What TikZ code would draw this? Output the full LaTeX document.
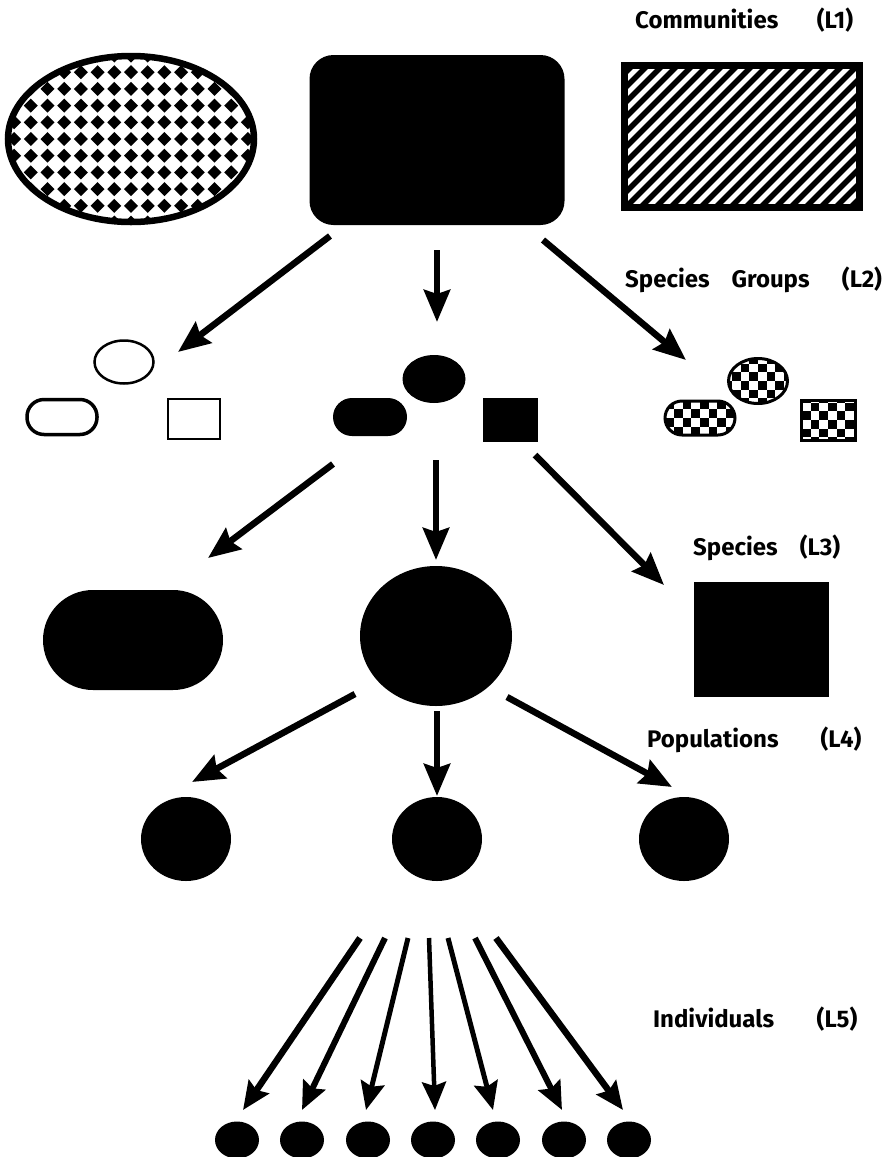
\documentclass[tikz,border=0pt]{standalone}
\usepackage{fontspec}
\setmainfont{Fira Sans}
\usetikzlibrary{shapes.geometric,arrows.meta}

\tikzset{
  shp/.style={inner sep=0pt, outer sep=0pt},
  blk/.style={shp, fill=black},
  oval/.style={shp, ellipse},
  pill/.style={shp, rectangle, rounded corners=#1},
  arr/.style={line width=6.5pt, -{Stealth[length=32pt,width=26pt,inset=4pt]}},
  thinarr/.style={line width=#1, -{Stealth[length=28pt,width=24pt,inset=4pt]}},
  lvlfont/.style={inner sep=0pt, font=\bfseries\fontsize{24}{28}\selectfont},
  lvl/.style={lvlfont, anchor=base west},
  lvltag/.style={lvlfont, anchor=base},
  % 45-degree diamond lattice
  diamonds/.style={path picture={
    \begin{scope}[sharp corners, shift={(path picture bounding box.center)}]
      \foreach \i in {-8,...,8}{\foreach \j in {-6,...,6}{
        \fill (\i*16.7-7,\j*16.7) -- ++(7,7) -- ++(7,-7) -- ++(-7,-7) -- cycle;}}
    \end{scope}}},
  % diagonal stripes rising to the right
  stripes/.style={path picture={
    \begin{scope}[sharp corners, shift={(path picture bounding box.center)}]
      \foreach \k in {-30,...,30}{
        \draw[line width=5.4pt] (\k*15-200,200) -- (\k*15+200,-200);}
    \end{scope}}},
  % small square checkerboard
  checks/.style={path picture={
    \begin{scope}[sharp corners, shift={(path picture bounding box.center)}]
      \foreach \i in {-6,...,6}{\foreach \j in {-5,...,5}{
        \ifodd\numexpr\i+\j+20\relax\else
          \fill (\i*8.6,\j*8.6) rectangle ++(8.6,8.6);
        \fi}}
    \end{scope}}},
}

\begin{document}
\begin{tikzpicture}[x=1pt,y=-1pt]
\useasboundingbox (0,0) rectangle (895,1157);

% ---- level labels
\node[lvl] (t1) at (635,28)  {Communities};
\node[lvltag] (t1l) at (835,28) {(L1)};
\node[lvl] (t2) at (625,287) {Species\hspace{22pt}Groups};
\node[lvltag] (t2l) at (862,287) {(L2)};
\node[lvl] (t3) at (693,555) {Species};
\node[lvltag] (t3l) at (820,555) {(L3)};
\node[lvl] (t4) at (647,747) {Populations};
\node[lvltag] (t4l) at (841,747) {(L4)};
\node[lvl] (t5) at (653,1027) {Individuals};
\node[lvltag] (t5l) at (837,1027) {(L5)};

% ---- L1: communities
\node[oval, draw, line width=6.5pt, diamonds, minimum width=246pt, minimum height=166pt] (c1) at (131,139) {};
\node[blk, pill=24pt, minimum width=255pt, minimum height=170pt] (c2) at (437,140) {};
\node[shp, draw, line width=7pt, stripes, minimum width=235pt, minimum height=142pt] (c3) at (742,136) {};

% ---- L2: species groups
\node[oval, draw, line width=2.5pt, minimum width=59pt, minimum height=43pt] (g1) at (124,362) {};
\node[shp, draw, line width=3.5pt, rounded corners=17pt, minimum width=70pt, minimum height=35pt] (g2) at (62,417) {};
\node[shp, draw, line width=2.5pt, minimum width=52pt, minimum height=40pt] (g3) at (194,419) {};

\node[oval, fill=black, minimum width=63pt, minimum height=48pt] (g4) at (434,379) {};
\node[blk, pill=19pt, minimum width=74pt, minimum height=38pt] (g5) at (370,417) {};
\node[blk, minimum width=55pt, minimum height=44pt] (g6) at (510,420) {};

\node[oval, draw, line width=3pt, checks, minimum width=59pt, minimum height=45pt] (g7) at (758,381) {};
\node[shp, draw, line width=3pt, rounded corners=17pt, checks, minimum width=70pt, minimum height=34pt] (g8) at (700,418) {};
\node[shp, draw, line width=3pt, checks, minimum width=54pt, minimum height=40pt] (g9) at (828,420) {};

% ---- L3: species
\node[blk, pill=50pt, minimum width=180pt, minimum height=100pt] (s1) at (133,640) {};
\node[oval, fill=black, minimum width=152pt, minimum height=140pt] (s2) at (436,636) {};
\node[blk, minimum width=135pt, minimum height=115pt] (s3) at (761,639) {};

% ---- L4: populations
\node[oval, fill=black, minimum width=90pt, minimum height=84pt] (p1) at (186,839) {};
\node[oval, fill=black, minimum width=90pt, minimum height=84pt] (p2) at (437,839) {};
\node[oval, fill=black, minimum width=90pt, minimum height=84pt] (p3) at (684,839) {};

% ---- L5: individuals
\foreach \n/\x in {1/237,2/302,3/368,4/433,5/498,6/564,7/629}{
  \node[oval, fill=black, minimum width=44pt, minimum height=37pt] (i\n) at (\x,1140) {};
}

% ---- arrow end points
\coordinate (a1s) at (330,236); \coordinate (a1e) at (178,352);
\coordinate (a2s) at (437,250); \coordinate (a2e) at (437,322);
\coordinate (a3s) at (543,240); \coordinate (a3e) at (686,360);
\coordinate (b1s) at (333,464); \coordinate (b1e) at (208,558);
\coordinate (b2s) at (436,460); \coordinate (b2e) at (436,560);
\coordinate (b3s) at (535,455); \coordinate (b3e) at (664,585);
\coordinate (d1s) at (355,694); \coordinate (d1e) at (192,782);
\coordinate (d2s) at (437,711); \coordinate (d2e) at (437,796);
\coordinate (d3s) at (507,697); \coordinate (d3e) at (672,787);

\draw[arr] (a1s) -- (a1e);
\draw[arr] (a2s) -- (a2e);
\draw[arr] (a3s) -- (a3e);
\draw[arr] (b1s) -- (b1e);
\draw[arr] (b2s) -- (b2e);
\draw[arr] (b3s) -- (b3e);
\draw[arr] (d1s) -- (d1e);
\draw[arr] (d2s) -- (d2e);
\draw[arr] (d3s) -- (d3e);

% fan of arrows from the middle population to the individuals
\foreach \n/\sx/\ex/\w in {1/360/243/6.5pt,2/385/302/6pt,3/408/366/5pt,4/429/435/4.5pt,5/448/493/5pt,6/475/562/6pt,7/496/623/6.5pt}{
  \coordinate (f\n s) at (\sx,938);
  \coordinate (f\n e) at (\ex,1110);
  \draw[thinarr=\w] (f\n s) -- (f\n e);
}
\end{tikzpicture}
\end{document}
